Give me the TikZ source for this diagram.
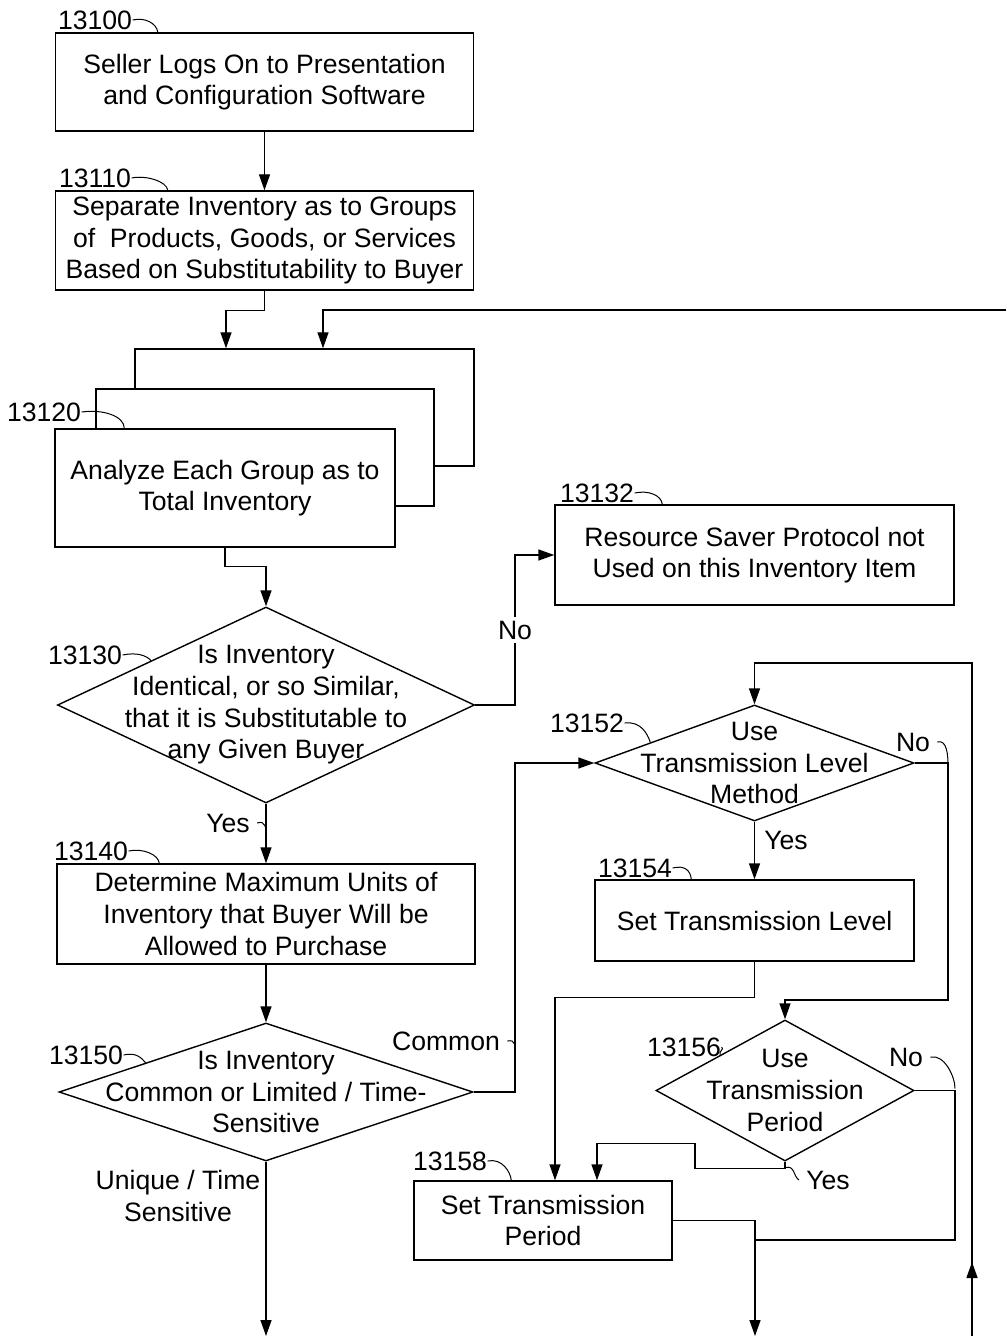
\documentclass[tikz,border=0pt]{standalone}
\usepackage{fontspec}
\setmainfont{Liberation Sans}
\usetikzlibrary{shapes,arrows.meta}
\usetikzlibrary{positioning}
\usetikzlibrary{calc}
\tikzstyle{block} = [draw, rectangle, fill=white, align=center, inner sep=2pt]
\tikzstyle{decision} = [draw, diamond, inner sep=0pt]
\tikzstyle{line} = [draw, -{Triangle[length=8pt,width=5.5pt]}]
\tikzstyle{leader} = [draw, line width=0.5pt]

\begin{document}
\begin{tikzpicture}[x=0.5pt, y=-0.5pt, line width=0.7pt,
	every node/.style={font=\fontsize{13.3}{15.8}\selectfont},
	tag/.style={inner sep=0pt}]
    \useasboundingbox (0,0) rectangle (1006,1336);
    %% Boxes and decisions
    \node [block, minimum width=209pt, minimum height=49pt] (logon) at (264.5,82) {Seller Logs On to Presentation\\and Configuration Software};
    \node [block, minimum width=209pt, minimum height=49.5pt] (separate) at (264.5,240.5) {Separate Inventory as to Groups\\of~ Products, Goods, or Services\\Based on Substitutability to Buyer};
    \node [block, minimum width=169.5pt, minimum height=58.5pt] (group3) at (304.5,407.5) {};
    \node [block, minimum width=169pt, minimum height=58.5pt] (group2) at (265,447.5) {};
    \node [block, minimum width=170pt, minimum height=59pt] (analyze) at (225,488) {Analyze Each Group as to\\Total Inventory};
    \node [decision, minimum width=208.5pt, minimum height=98pt,
        label={[align=center]center:{Is Inventory\\Identical, or so Similar,\\that it is Substitutable to\\any Given Buyer}}] (identical) at (266,705) {};
    \node [block, minimum width=199.5pt, minimum height=50pt] (notused) at (754.5,555) {Resource Saver Protocol not\\Used on this Inventory Item};
    \node [block, minimum width=209pt, minimum height=50pt] (maxunits) at (266,914) {Determine Maximum Units of\\Inventory that Buyer Will be\\Allowed to Purchase};
    \node [decision, minimum width=207pt, minimum height=69pt,
        label={[align=center]center:{Is Inventory\\Common or Limited / Time-\\Sensitive}}] (common) at (266,1092) {};
    \node [decision, minimum width=159.5pt, minimum height=58pt,
        label={[align=center]center:{Use\\Transmission Level\\Method}}] (levelq) at (754.5,763) {};
    \node [block, minimum width=159.5pt, minimum height=40.5pt] (level) at (754.5,920.5) {Set Transmission Level};
    \node [decision, minimum width=129pt, minimum height=70.5pt,
        label={[align=center]center:{Use\\Transmission\\Period}}] (periodq) at (785,1090.5) {};
    \node [block, minimum width=129pt, minimum height=39.5pt] (period) at (543,1220.5) {Set Transmission\\Period};
    %% Reference numbers
    \node [tag] (t13100) at (95,20) {13100};
    \node [tag] (t13110) at (95,178) {13110};
    \node [tag] (t13120) at (44,412) {13120};
    \node [tag] (t13130) at (85,655) {13130};
    \node [tag] (t13132) at (597,493) {13132};
    \node [tag] (t13140) at (91,851) {13140};
    \node [tag] (t13150) at (86,1055) {13150};
    \node [tag] (t13152) at (587,723) {13152};
    \node [tag] (t13154) at (635,868) {13154};
    \node [tag] (t13156) at (684,1047) {13156};
    \node [tag] (t13158) at (450,1161) {13158};
    \path [leader] (t13100.east) .. controls +(12,-3) and +(-1,-9) .. ([xshift=51.5pt]logon.north west);
    \path [leader] (t13110.east) .. controls +(14,-3) and +(-1,-9) .. ([xshift=56.5pt]separate.north west);
    \path [leader] (t13120.east) .. controls +(22,-3) and +(0,-12) .. ([xshift=35pt]analyze.north west);
    \path [leader] (t13130.east) .. controls +(14,-3) and +(-4,-5) .. ($(identical.west)!0.45!(identical.north)$);
    \path [leader] (t13132.east) .. controls +(14,-3) and +(-1,-9) .. ([xshift=54pt]notused.north west);
    \path [leader] (t13140.east) .. controls +(14,-3) and +(-1,-9) .. ([xshift=51.5pt]maxunits.north west);
    \path [leader] (t13150.east) .. controls +(12,-3) and +(-4,-5) .. ($(common.west)!0.42!(common.north)$);
    \path [leader] (t13152.east) .. controls +(16,-2) and +(-3,-9) .. ($(levelq.west)!0.35!(levelq.north)$);
    \path [leader] (t13154.east) .. controls +(12,-3) and +(-1,-9) .. ([xshift=48.5pt]level.north west);
    \path [leader] (t13156.east) .. controls +(3,2) and +(-2,-3) .. ($(periodq.west)!0.5!(periodq.north)$);
    \path [leader] (t13158.east) .. controls +(14,-3) and +(-1,-9) .. ([xshift=49pt]period.north west);
    %% Bends and free ends
    \coordinate (nobend) at (515,705);
    \coordinate (combend) at (515,1092);
    \coordinate (lvlno) at (948,763);
    \coordinate (perno) at (955,1090.5);
    \coordinate (join) at (755,1240);
    \coordinate (exit1) at (266,1336);
    \coordinate (exit2) at (755,1336);
    \coordinate (loopin) at (972,1336);
    \coordinate (groupin) at (1006,310);
    %% Arrows
    \path [line] (logon) -- (separate);
    \path [line] (separate.south) -- ++(0,20) -| ([xshift=-39.25pt]group3.north);
    \path [line] (groupin) -| ([xshift=9.25pt]group3.north);
    \path [line] (analyze.south) -- ++(0,19) -| (identical.north);
    \path [line] (identical.east) -- (nobend) |- node [pos=0.25, fill=white, inner sep=2pt] (nolbl1) {No} (notused.west);
    \path [line] (identical.south) -- (maxunits.north);
    \node (yes1) at (228,823) {Yes};
    \path [leader] (yes1.east) .. controls +(9,-3) and +(0,-7) .. ([yshift=-16pt]identical.south);
    \path [line] (maxunits) -- (common);
    \path [line] (common.south) -- (exit1);
    \node [align=center] (unique) at (178,1196) {Unique / Time\\Sensitive};
    \path [line] (common.east) -- (combend) |- (levelq.west);
    \node (comlbl) at (446,1041) {Common};
    \path [leader] (comlbl.east) .. controls +(9,-2) and +(0,-7) .. ([yshift=19pt]combend);
    \path [line] (levelq) -- (level);
    \node (yes2) at (786,840) {Yes};
    \path [line] (levelq.east) -- (lvlno) -- ++(0,237) -| (periodq.north);
    \node (no2) at (913,742) {No};
    \path [leader] (no2.east) .. controls +(10,-3) and +(0,-8) .. ([yshift=-1pt]lvlno);
    \path [line] (loopin) -- ++(0,-74);
    \path [line] (loopin) -- ++(0,-673) -| (levelq.north);
    \path [line] (level.south) -- ++(0,36) -| ([xshift=6pt]period.north);
    \path [line] (periodq.south) -- ++(0,7) -- ++(-90,0) -- ++(0,-25) -| ([xshift=27pt]period.north);
    \node (yes3) at (828,1180) {Yes};
    \path [leader] ([yshift=-3pt]periodq.south) .. controls +(10,-3) and +(-6,-4) .. (yes3.west);
    \path [draw] (periodq.east) -- (perno) |- (join);
    \node (no3) at (906,1057) {No};
    \path [leader] (no3.east) .. controls +(14,-3) and +(0,-12) .. ([yshift=1pt]perno);
    \path [line] (period.east) -| (exit2);
\end{tikzpicture}
\end{document}
